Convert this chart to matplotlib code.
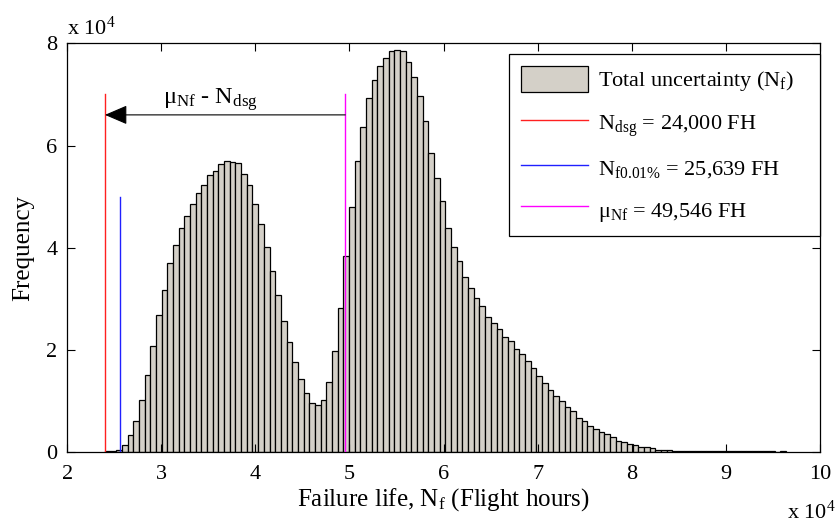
import numpy as np
import matplotlib.pyplot as plt
from matplotlib.ticker import FuncFormatter

# histogram counts (in units of 1e4), 120 equal bins from n_min to n_max
counts = [0.02, 0.02, 0.05, 0.15, 0.33, 0.61, 1.03, 1.52, 2.08, 2.68,
          3.18, 3.71, 4.06, 4.39, 4.62, 4.86, 5.07, 5.22, 5.43, 5.51,
          5.63, 5.69, 5.68, 5.66, 5.45, 5.22, 4.86, 4.46, 4.01, 3.54,
          3.07, 2.56, 2.15, 1.76, 1.44, 1.15, 0.96, 0.93, 1.03, 1.38,
          1.98, 2.83, 3.84, 4.80, 5.69, 6.37, 6.93, 7.28, 7.55, 7.72,
          7.84, 7.87, 7.84, 7.63, 7.34, 6.96, 6.49, 5.86, 5.37, 4.92,
          4.39, 4.01, 3.74, 3.42, 3.22, 3.01, 2.86, 2.65, 2.53, 2.41,
          2.26, 2.17, 2.02, 1.93, 1.79, 1.64, 1.49, 1.35, 1.21, 1.11,
          1.00, 0.88, 0.80, 0.68, 0.61, 0.52, 0.45, 0.40, 0.35, 0.29,
          0.23, 0.20, 0.17, 0.14, 0.11, 0.10, 0.08, 0.05, 0.05, 0.05,
          0.03, 0.03, 0.03, 0.03, 0.02, 0.02, 0.02, 0.02, 0.02, 0.02,
          0.02, 0.02, 0.02, 0.02, 0.02, 0.02, 0.02, 0.02, 0.0, 0.02]
n_min = 24000
n_max = 96400

n_dsg = 24000
n_f001 = 25639
mu_nf = 49546

plt.rcParams['font.family'] = 'Liberation Serif'
plt.rcParams['font.size'] = 16
plt.rcParams['mathtext.fontset'] = 'custom'
plt.rcParams['mathtext.rm'] = 'Liberation Serif'
plt.rcParams['mathtext.it'] = 'Liberation Serif:italic'

fig = plt.figure(figsize=(8.38, 5.25), dpi=100)
ax = fig.add_axes([0.0803, 0.1385, 0.898, 0.779])

edges = np.linspace(n_min, n_max, len(counts) + 1)
freq = np.array(counts) * 1e4
bars = ax.bar(edges[:-1], freq, width=np.diff(edges), align='edge',
              color='#d4d0c8', edgecolor='black', linewidth=0.9)

l1, = ax.plot([n_dsg, n_dsg], [0, 7e4], color='#ff2020', lw=1.0, zorder=3)
l2, = ax.plot([n_f001, n_f001], [0, 5e4], color='#2020ff', lw=1.0, zorder=3)
l3, = ax.plot([mu_nf, mu_nf], [0, 7e4], color='#ff00ff', lw=1.0, zorder=3)

ax.annotate('', xy=(n_dsg, 6.6e4), xytext=(mu_nf, 6.6e4),
            arrowprops=dict(arrowstyle='-|>,head_length=0.7,head_width=0.3',
                            mutation_scale=20, color='black', lw=0.8,
                            shrinkA=0, shrinkB=0))
ax.text(35200, 6.82e4, 'μ$_\\mathrm{Nf}$ - N$_\\mathrm{dsg}$', ha='center',
        va='baseline', fontsize=17.5)

ax.set_xlim(20000, 100000)
ax.set_ylim(0, 80000)
ax.set_xticks(np.arange(20000, 100001, 10000))
ax.set_yticks(np.arange(0, 80001, 20000))
ax.xaxis.set_major_formatter(FuncFormatter(lambda v, p: '%d' % round(v / 1e4)))
ax.yaxis.set_major_formatter(FuncFormatter(lambda v, p: '%d' % round(v / 1e4)))
ax.tick_params(direction='in', length=6, width=0.8, top=True, right=True)
ax.tick_params(axis='x', pad=9)
ax.tick_params(axis='y', pad=7)
for s in ax.spines.values():
    s.set_linewidth(0.9)

ax.set_xlabel('Failure life, N$_\\mathrm{f}$ (Flight hours)', fontsize=18, labelpad=2)
ax.set_ylabel('Frequency', fontsize=18, labelpad=9)

fig.text(67 / 838, 1 - 35 / 525, 'x 10$^4$', ha='left', va='baseline')
fig.text(836 / 838, 1 - 519 / 525, 'x 10$^4$', ha='right', va='baseline')

leg = ax.legend([bars, l1, l2, l3],
                ['Total uncertainty (N$_\\mathrm{f}$)',
                 'N$_\\mathrm{dsg}$ = 24,000 FH',
                 'N$_\\mathrm{f0.01\\%}$ = 25,639 FH',
                 'μ$_\\mathrm{Nf}$ = 49,546 FH'],
                loc='upper left', bbox_to_anchor=(0.587, 0.531, 0.413, 0.443),
                mode='expand', borderaxespad=0, fancybox=False, framealpha=1,
                edgecolor='black', handlelength=3.0, handleheight=1.4,
                handletextpad=0.45, labelspacing=0.72, borderpad=0.55)
leg.get_frame().set_linewidth(0.9)

fig.savefig('out.png', dpi=100)
